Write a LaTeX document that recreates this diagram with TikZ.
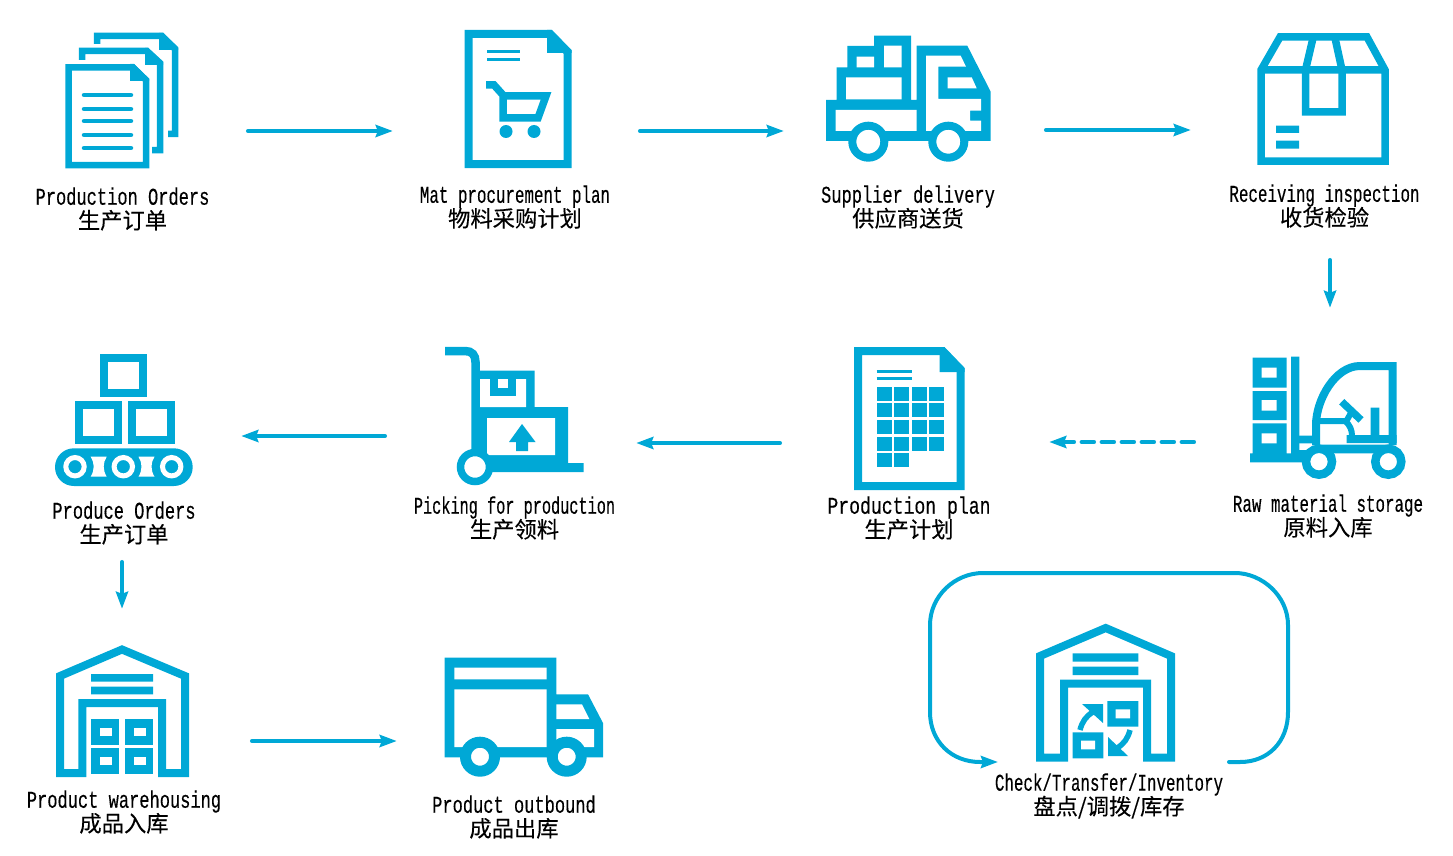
\documentclass[tikz,border=0pt]{standalone}
\usepackage{fontspec}
\usetikzlibrary{arrows.meta}
\newfontfamily\latinfont[FakeStretch=0.66,FakeBold=0.3]{Liberation Mono}
\newfontfamily\latinwide[FakeStretch=0.71,FakeBold=0.3]{Liberation Mono}
\newfontfamily\latinwider[FakeStretch=0.755,FakeBold=0.3]{Liberation Mono}
\newfontfamily\latinnarrow[FakeStretch=0.635,FakeBold=0.3]{Liberation Mono}
\newfontfamily\cjkfont[FakeBold=0.2]{Noto Sans CJK SC}
\definecolor{flowblue}{HTML}{00A8D6}
\newcommand{\twolines}[3][\latinfont]{{#1\fontsize{24}{24}\selectfont #2}\\{\cjkfont\fontsize{22.3}{24}\selectfont #3}}
\begin{document}
\begin{tikzpicture}[x=1pt,y=-1pt]
        \tikzstyle{iconbox}=[inner sep=0pt,minimum height=100pt]
        \tikzstyle{steptext}=[align=center,inner sep=0pt,font=\fontsize{20}{24}\selectfont]
        \tikzstyle{flow}=[draw=flowblue,line width=4.5pt,line cap=round,-{Stealth[length=17pt,width=12pt,inset=2pt]}]
        \tikzstyle{outline}=[draw=flowblue,line width=8pt]
        \tikzstyle{solid}=[fill=flowblue,draw=none]
        \tikzstyle{hole}=[fill=white,draw=none]
        \tikzstyle{wheel}=[draw=flowblue,fill=white]

        \useasboundingbox (0,0) rectangle (1453,856);

        \node [iconbox,minimum width=113pt] (orders) at (121.5,131) {};
        \node [iconbox,minimum width=107pt] (matplan) at (518,131) {};
        \node [iconbox,minimum width=165pt] (delivery) at (910.5,131) {};
        \node [iconbox,minimum width=146pt] (inspection) at (1330,130) {};
        \node [iconbox,minimum width=160pt] (storage) at (1330,442) {};
        \node [iconbox,minimum width=110pt] (prodplan) at (909,443) {};
        \node [iconbox,minimum width=141pt] (picking) at (515.5,443) {};
        \node [iconbox,minimum width=138pt] (produce) at (122,436) {};
        \node [iconbox,minimum width=134pt] (warehousing) at (122,741) {};
        \node [iconbox,minimum width=159pt] (outbound) at (525.5,741) {};
        \node [iconbox,minimum width=139pt] (check) at (1105.5,700) {};
        \coordinate (loopstart) at (1229,762);
        \coordinate (loopend) at (998,762);

        \node [steptext] (orderstext) at (122.5,209) {\twolines[\latinwide]{Production Orders}{生产订单}};
        \node [steptext] (matplantext) at (515,207) {\twolines{Mat procurement plan}{物料采购计划}};
        \node [steptext] (deliverytext) at (908,207) {\twolines[\latinwide]{Supplier delivery}{供应商送货}};
        \node [steptext] (inspectiontext) at (1324.5,206) {\twolines{Receiving inspection}{收货检验}};
        \node [steptext] (storagetext) at (1328,516) {\twolines{Raw material storage}{原料入库}};
        \node [steptext] (prodplantext) at (909,518) {\twolines[\latinwider]{Production plan}{生产计划}};
        \node [steptext] (pickingtext) at (514.5,518) {\twolines[\latinnarrow]{Picking for production}{生产领料}};
        \node [steptext] (producetext) at (124,523) {\twolines[\latinwide]{Produce Orders}{生产订单}};
        \node [steptext] (warehousingtext) at (124,812) {\twolines[\latinwide]{Product warehousing}{成品入库}};
        \node [steptext] (outboundtext) at (514,817) {\twolines[\latinwide]{Product outbound}{成品出库}};
        \node [steptext] (checktext) at (1109,796) {\twolines{Check/Transfer/Inventory}{盘点/调拨/库存}};

        \draw [flow,shorten <=70pt,shorten >=71.5pt] (orders) -- (matplan);
        \draw [flow,shorten <=68.5pt,shorten >=44pt] (matplan) -- (delivery);
        \draw [flow,shorten <=53pt,shorten >=66pt] (delivery.east |- inspection) -- (inspection);
        \draw [flow,shorten <=80pt,shorten >=84pt] (inspection) -- (storage);
        \draw [flow,dash pattern=on 12pt off 8pt,shorten <=56pt,shorten >=85pt] (storage) -- (storage -| prodplan.east);
        \draw [flow,shorten <=74pt,shorten >=50pt] (prodplan) -- (picking);
        \draw [flow,shorten <=60pt,shorten >=50pt] (produce -| picking.west) -- (produce);
        \draw [flow,shorten <=76pt,shorten >=82pt] (produce) -- (warehousing);
        \draw [flow,shorten <=63pt,shorten >=49pt] (warehousing) -- (outbound);
        \draw [flow,line width=4pt] (loopstart) -- (1240,762) .. controls (1268,762) and (1288,742) .. (1288,712) -- (1288,625) .. controls (1288,596) and (1262,573) .. (1235,573) -- (983,573) .. controls (955,573) and (930,596) .. (930,625) -- (930,712) .. controls (930,742) and (952,762) .. (980,762) -- (loopend);

        % orders
        \draw [outline,line width=6.5pt] (97,44) -- (97,36) -- (162,36) -- (175,49) -- (175,134) -- (168,134);
        \fill [solid] (159,33) -- (163,33) -- (178,47) -- (178,50) -- (159,50) -- cycle;
        \draw [outline,line width=6.5pt] (82,60) -- (82,51) -- (147,51) -- (160,63) -- (160,150) -- (152,150);
        \fill [solid] (145,48) -- (148,48) -- (163,62) -- (163,65) -- (145,65) -- cycle;
        \draw [outline,line width=6.5pt,fill=white] (68.5,67.5) -- (133,67.5) -- (146,80) -- (146,165) -- (68.5,165) -- cycle;
        \fill [solid] (130,64) -- (134,64) -- (149,79) -- (149,81) -- (130,81) -- cycle;
        \foreach \y in {95,109,121,135,148}
          \draw [flowblue,line width=4.5pt,line cap=round] (84,\y) -- (131,\y);

        % mat procurement plan
        \draw [outline] (468.5,34) -- (550,34) -- (567.5,52) -- (567.5,164) -- (468.5,164) -- cycle;
        \fill [solid] (547,30) -- (552,30) -- (571.5,50) -- (571.5,53) -- (547,53) -- cycle;
        \draw [flowblue,line width=3pt] (487,52) -- (520,52) (487,60) -- (520,60);
        \draw [outline,line width=7.5pt] (486,85) -- (494,85) -- (503,95) -- (503,118) -- (538,118) -- (546,96) -- (503,96);
        \fill [solid] (506,131.5) circle (6.5pt) (534,131.5) circle (6.5pt);

        % supplier delivery
        \fill [solid] (826,100) -- (836.7,100) -- (836.7,67.3) -- (847.3,67.3) -- (847.3,46) -- (874,46) -- (874,35.7) -- (911,35.7) -- (911,100) -- (916.7,100) -- (916.7,45.7) -- (967.3,45.7) -- (990.7,91.7) -- (990.7,141) -- (826,141) -- cycle;
        \fill [hole] (856.7,56.7) rectangle (874,67.3) (884,45.7) rectangle (901.7,67.3) (846,77.3) rectangle (901.7,99.3) (835.7,110) rectangle (916.7,131);
        \fill [hole] (926,55.7) -- (960.7,55.7) -- (966,66.7) -- (938.3,66.7) -- (938.3,99) -- (981,99) -- (981,110.7) -- (970,110.7) -- (970,120.7) -- (981,120.7) -- (981,131) -- (926,131) -- cycle;
        \fill [hole] (947.7,77.3) -- (971.7,77.3) -- (976.7,88.3) -- (947.7,88.3) -- cycle;
        \draw [wheel,line width=8pt] (868.3,141.7) circle (16pt) (948.3,141.7) circle (16pt);

        % receiving inspection
        \draw [outline,line width=7.5pt] (1261,161) -- (1261,70) -- (1280,37) -- (1367,37) -- (1385,70) -- (1385,161) -- cycle (1261,70) -- (1385,70);
        \draw [outline,line width=7.5pt] (1313,38) -- (1305.5,70) -- (1305.5,112) -- (1342,112) -- (1342,70) -- (1335,38);
        \fill [solid] (1276,125.7) rectangle (1299,133) (1276,140.7) rectangle (1299,148.7);

        % raw material storage
        \fill [solid] (1252.7,357.7) rectangle (1286.7,387.7) (1252.7,391) rectangle (1286.7,420) (1252.7,423.3) rectangle (1286.7,453) (1291,356.7) rectangle (1299.3,453) (1250,453.3) rectangle (1306,462.3);
        \fill [hole] (1261.7,367.7) rectangle (1276.7,377.7) (1261.7,400) rectangle (1276.7,410.7) (1261.7,433.3) rectangle (1276.7,443.3);
        \draw [outline] (1316,445) -- (1316,425) .. controls (1316,400) and (1335,366) .. (1360,366) -- (1392.5,366) -- (1392.5,445);
        \draw [flowblue,line width=6pt] (1320,421) -- (1345,421) .. controls (1350,425) and (1352,430) .. (1352,436);
        \draw [flowblue,line width=7.5pt] (1341.7,401.7) -- (1361,420);
        \draw [flowblue,line width=6pt] (1351.7,411.7) -- (1346,421.7);
        \fill [solid] (1370.7,407.7) rectangle (1379.3,436) (1346.7,435) rectangle (1396.7,443) (1299,435.7) rectangle (1314,443.3) (1320,444.5) rectangle (1388,453.3) (1299,450) rectangle (1312,454);
        \draw [wheel,line width=8.5pt] (1319,461.7) circle (13pt) (1388.3,461.7) circle (13pt);

        % production plan
        \draw [outline] (858,351) -- (942,351) -- (960.7,370) -- (960.7,486) -- (858,486) -- cycle;
        \fill [solid] (939.7,347) -- (944.5,347) -- (964.7,368) -- (964.7,372) -- (939.7,372) -- cycle;
        \draw [flowblue,line width=3pt] (876.6,371) -- (912,371) (876.6,378) -- (912,378);
        \foreach \x in {876.6,894.1,911.6,929.1}
          \foreach \y in {386.7,403.3,420,436.6}
            \fill [solid] (\x,\y) rectangle ++(15,14);
        \foreach \x in {876.6,894.1}
          \fill [solid] (\x,453) rectangle ++(15,14);

        % picking for production
        \begin{scope}[shift={(-3,0)}]
          \draw [outline,line width=8.5pt] (448,351) -- (468,351) .. controls (475,351) and (478.5,355) .. (478.5,362) -- (478.5,460);
          \fill [solid] (483,370.7) rectangle (537.7,407) (483,407) rectangle (571,463) (483,463) rectangle (586.5,472);
          \fill [hole] (483,379) rectangle (529,407) (490,418) rectangle (558,455);
          \fill [solid] (493,379) rectangle (519,396);
          \fill [hole] (501,379) rectangle (511,388);
          \fill [solid] (525,424) -- (538.5,442) -- (531,442) -- (531,451) -- (519,451) -- (519,442) -- (512,442) -- cycle;
          \draw [wheel,line width=7.5pt] (478,467) circle (14.5pt);
        \end{scope}

        % produce orders
        \foreach \x/\y in {100.4/354,75/401,128/401}
          \draw [outline] (\x+4,\y+4) rectangle ++(38.5,34.5);
        \fill [solid,rounded corners=18.8pt] (55,448.3) rectangle (192.7,486);
        \foreach \x in {75,123.3,171.7}
          \draw [draw=white,fill=flowblue,line width=5pt] (\x,466.7) circle (9.2pt);
        \foreach \x in {90.7,138.5}
          \fill [hole] (\x,456.7) -- (\x+16,456.7) .. controls (\x+12,463) and (\x+12,470) .. (\x+16,476.7) -- (\x,476.7) .. controls (\x+4,470) and (\x+4,463) .. (\x,456.7) -- cycle;

        % product warehousing
        \begin{scope}[shift={(-1,0)}]
          \draw [outline] (83.4,703) -- (163,703) -- (163,773) -- (186,773) -- (186,676) -- (123,649.5) -- (61,676) -- (61,773) -- (83.4,773) -- cycle;
          \fill [solid] (92,674) rectangle (154,681.7) (92,686.7) rectangle (154,694.3);
          \foreach \x in {92,126}
            \foreach \y in {719,748} {
              \fill [solid] (\x,\y) rectangle ++(28,26);
              \fill [hole] (\x+8.5,\y+9) rectangle ++(12,8);
            }
        \end{scope}

        % product outbound
        \begin{scope}[shift={(-2,0)}]
          \fill [solid] (446.5,657.7) -- (558.4,657.7) -- (558.4,694.3) -- (590,694.3) -- (605,723) -- (605,757.3) -- (446.5,757.3) -- cycle;
          \fill [hole] (456.4,667.7) rectangle (548.5,679.3) (456.4,689.3) rectangle (548.5,747) (558.4,729) rectangle (596,747);
          \fill [hole] (558.4,704.3) -- (584,704.3) -- (591.3,719) -- (558.4,719) -- cycle;
          \draw [wheel,line width=11pt] (482,756.7) circle (14.5pt) (568.7,756.7) circle (14.5pt);
        \end{scope}

        % check / transfer / inventory
        \draw [outline] (1064,683.5) -- (1147,683.5) -- (1147,757.5) -- (1171,757.5) -- (1171,656) -- (1105.7,628) -- (1040,656) -- (1040,757.5) -- (1064,757.5) -- cycle;
        \fill [solid] (1072.7,653.3) rectangle (1138.3,661.7) (1072.7,666.7) rectangle (1138.3,675);
        \fill [solid] (1107.3,701) rectangle (1138.3,726.7) (1072.7,732.3) rectangle (1103.3,758.3);
        \fill [hole] (1115.7,709.3) rectangle (1130,718.3) (1081,740.7) rectangle (1095,749.3);
        \fill [solid] (1082,704) -- (1103,704) -- (1103,723) -- cycle;
        \draw [flowblue,line width=5.5pt] (1080,730) .. controls (1082,722) and (1086,716) .. (1093,712);
        \fill [solid] (1108,737) -- (1108,756) -- (1128,756) -- cycle;
        \draw [flowblue,line width=5.5pt] (1130,730) .. controls (1128,738) and (1124,744) .. (1117,748);
\end{tikzpicture}
\end{document}
